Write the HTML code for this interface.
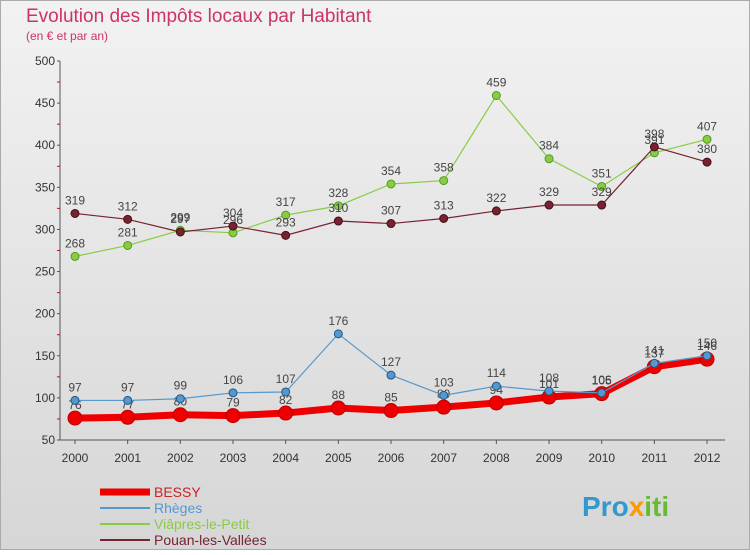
<!DOCTYPE html>
<html><head><meta charset="utf-8"><style>
body{margin:0;width:750px;height:550px;overflow:hidden;font-family:"Liberation Sans",sans-serif}
</style></head><body>
<svg id="c" width="750" height="550" xmlns="http://www.w3.org/2000/svg">
<defs><linearGradient id="bg" x1="0" y1="0" x2="0" y2="1"><stop offset="0" stop-color="#f2f2f2"/><stop offset="1" stop-color="#d6d6d6"/></linearGradient></defs>
<rect x="0.5" y="0.5" width="749" height="549" fill="url(#bg)" stroke="#aaa"/>
<text x="26" y="22" font-size="19" fill="#cc3366">Evolution des Impôts locaux par Habitant</text>
<text x="26" y="40" font-size="12" fill="#cc3366">(en € et par an)</text>
<g id="axes"></g><g id="series"></g><g id="legend"></g>
<text x="582" y="516" font-size="28" font-weight="bold" fill="#3399cc">Pro<tspan fill="#ff9900">x</tspan><tspan fill="#66bb33">iti</tspan></text>
</svg>
<script>
const years=["2000","2001","2002","2003","2004","2005","2006","2007","2008","2009","2010","2011","2012"];
const yTicks=[50,100,150,200,250,300,350,400,450,500];
const bessy=[76,77,80,79,82,88,85,89,94,101,105,137,146];
const rheges=[97,97,99,106,107,176,127,103,114,108,106,141,150];
const viapres=[268,281,299,296,317,328,354,358,459,384,351,391,407];
const pouan=[319,312,297,304,293,310,307,313,322,329,329,398,380];
const NS="http://www.w3.org/2000/svg";
const X=i=>75+i*52.67, Y=v=>440-(v-50)*379/450;
function mk(t,a,p){const e=document.createElementNS(NS,t);for(const k in a)e.setAttribute(k,a[k]);p.appendChild(e);return e;}
const ax=document.getElementById('axes');
let l=mk('line',{x1:60,y1:61,x2:60,y2:440,stroke:'#555'},ax);

l=mk('line',{x1:60,y1:440,x2:725,y2:440,stroke:'#555'},ax);

yTicks.forEach((v,i)=>{const t=mk('text',{x:55,y:Y(v)+4,'font-size':12,'text-anchor':'end',fill:'#333'},ax);t.textContent=v;

mk('line',{x1:57,y1:Y(v),x2:60,y2:Y(v),stroke:'#555'},ax);
if(i<yTicks.length-1)mk('line',{x1:57,y1:Y(v+25),x2:60,y2:Y(v+25),stroke:'#e00'},ax);});
years.forEach((y,i)=>{const t=mk('text',{x:X(i),y:462,'font-size':12,'text-anchor':'middle',fill:'#333'},ax);t.textContent=y;

mk('line',{x1:X(i),y1:440,x2:X(i),y2:444,stroke:'#555'},ax);});
const sg=document.getElementById('series');
function series(d,col,w,r,name,dark){const g=mk('g',{},sg);
const p=mk('polyline',{points:d.map((v,i)=>X(i)+','+Y(v)).join(' '),fill:'none',stroke:col,'stroke-width':w},g);

d.forEach((v,i)=>{const c=mk('circle',{cx:X(i),cy:Y(v),r:r,fill:col,stroke:dark,'stroke-width':1},g);

const t=mk('text',{x:X(i),y:Y(v)-9,'font-size':12,'text-anchor':'middle',fill:'#444'},g);t.textContent=v;
});}
series(viapres,'#88cc44',1.2,4,'viapres-le-petit','#559922');
series(pouan,'#772233',1.2,4,'pouan-les-vallees','#441111');
series(bessy,'#ee0000',7,7,'bessy','#bb0000');
series(rheges,'#5599cc',1.2,4,'rheges','#225588');
const lg=document.getElementById('legend');
[['BESSY','#ee0000',7],['Rhèges','#5599cc',2],['Viâpres-le-Petit','#88cc44',2],['Pouan-les-Vallées','#772233',2]].forEach((e,i)=>{
const y=492+i*16;const g=mk('g',{},lg);
mk('line',{x1:100,y1:y,x2:150,y2:y,stroke:e[1],'stroke-width':e[2]},g);
const t=mk('text',{x:154,y:y+5,'font-size':14,fill:e[1]==='#ee0000'?'#cc2222':e[1]},g);t.textContent=e[0];});
</script>
</body></html>
